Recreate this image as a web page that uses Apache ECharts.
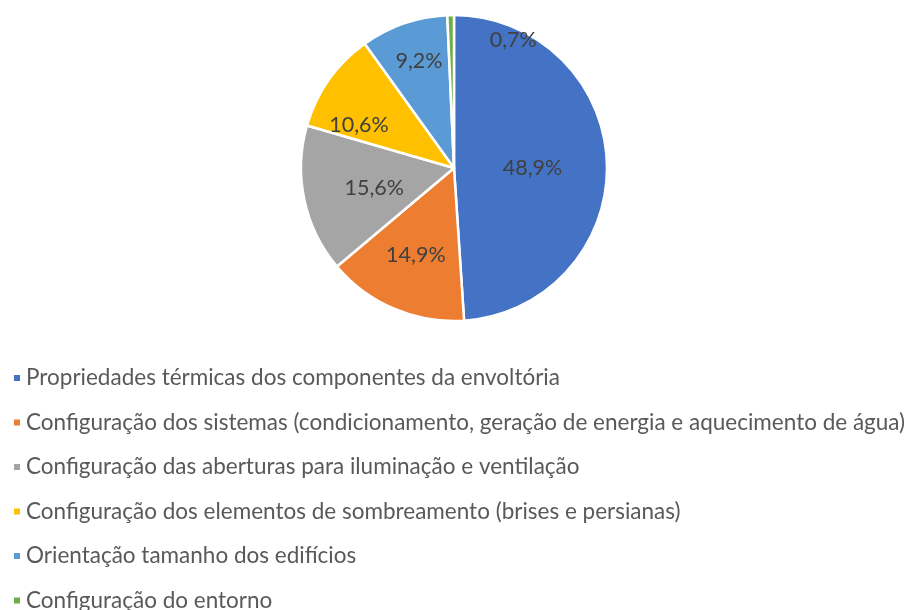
<!DOCTYPE html>
<html>
<head>
<meta charset="utf-8">
<script src="https://cdn.jsdelivr.net/npm/echarts@6/dist/echarts.min.js"></script>
<style>
  html, body { margin: 0; padding: 0; background: #fff; }
  #chart { width: 910px; height: 610px; }
</style>
</head>
<body>
<div id="chart"></div>
<script>
// categorias e valores (%)
var categories = [
  'Propriedades térmicas dos componentes da envoltória',
  'Configuração dos sistemas (condicionamento, geração de energia e aquecimento de água)',
  'Configuração das aberturas para iluminação e ventilação',
  'Configuração dos elementos de sombreamento (brises e persianas)',
  'Orientação tamanho dos edifícios',
  'Configuração do entorno'
];
var values = [48.9, 14.9, 15.6, 10.6, 9.2, 0.7];
var colors = ['#4472C4', '#ED7D31', '#A5A5A5', '#FFC000', '#5B9BD5', '#70AD47'];

// ajuste dos rotulos (posicao "best fit" do excel)
var labelShift = [[-1, 3], [-7, 14], [-2, 4], [-30, 3], [-9, -32], [61, -48]];

var FONT = 'Lato';

var dom = document.getElementById('chart');
var myChart = echarts.init(dom);

var seriesData = categories.map(function (name, i) {
  return {
    name: name,
    value: values[i],
    label: { offset: labelShift[i] }
  };
});

var option = {
  color: colors,
  animation: false,
  legend: {
    orient: 'vertical',
    left: 7,
    top: 361,
    height: 260,
    icon: 'rect',
    itemWidth: 8,
    itemHeight: 8,
    itemGap: 20.5,
    textStyle: {
      fontFamily: FONT,
      fontSize: 22.5,
      lineHeight: 24,
      color: '#595959'
    }
  },
  series: [{
    type: 'pie',
    center: [454, 168],
    radius: [0, 153],
    startAngle: 90,
    clockwise: true,
    data: seriesData,
    itemStyle: {
      borderColor: '#fff',
      borderWidth: 2.5
    },
    label: {
      show: true,
      position: 'inside',
      fontFamily: FONT,
      fontSize: 21.5,
      color: '#404040',
      formatter: function (p) {
        return p.value.toFixed(1).replace('.', ',') + '%';
      }
    },
    labelLine: { show: false },
    emphasis: { disabled: true }
  }]
};

if (option && typeof option === "object") {
  myChart.setOption(option, true);
}
</script>
</body>
</html>
